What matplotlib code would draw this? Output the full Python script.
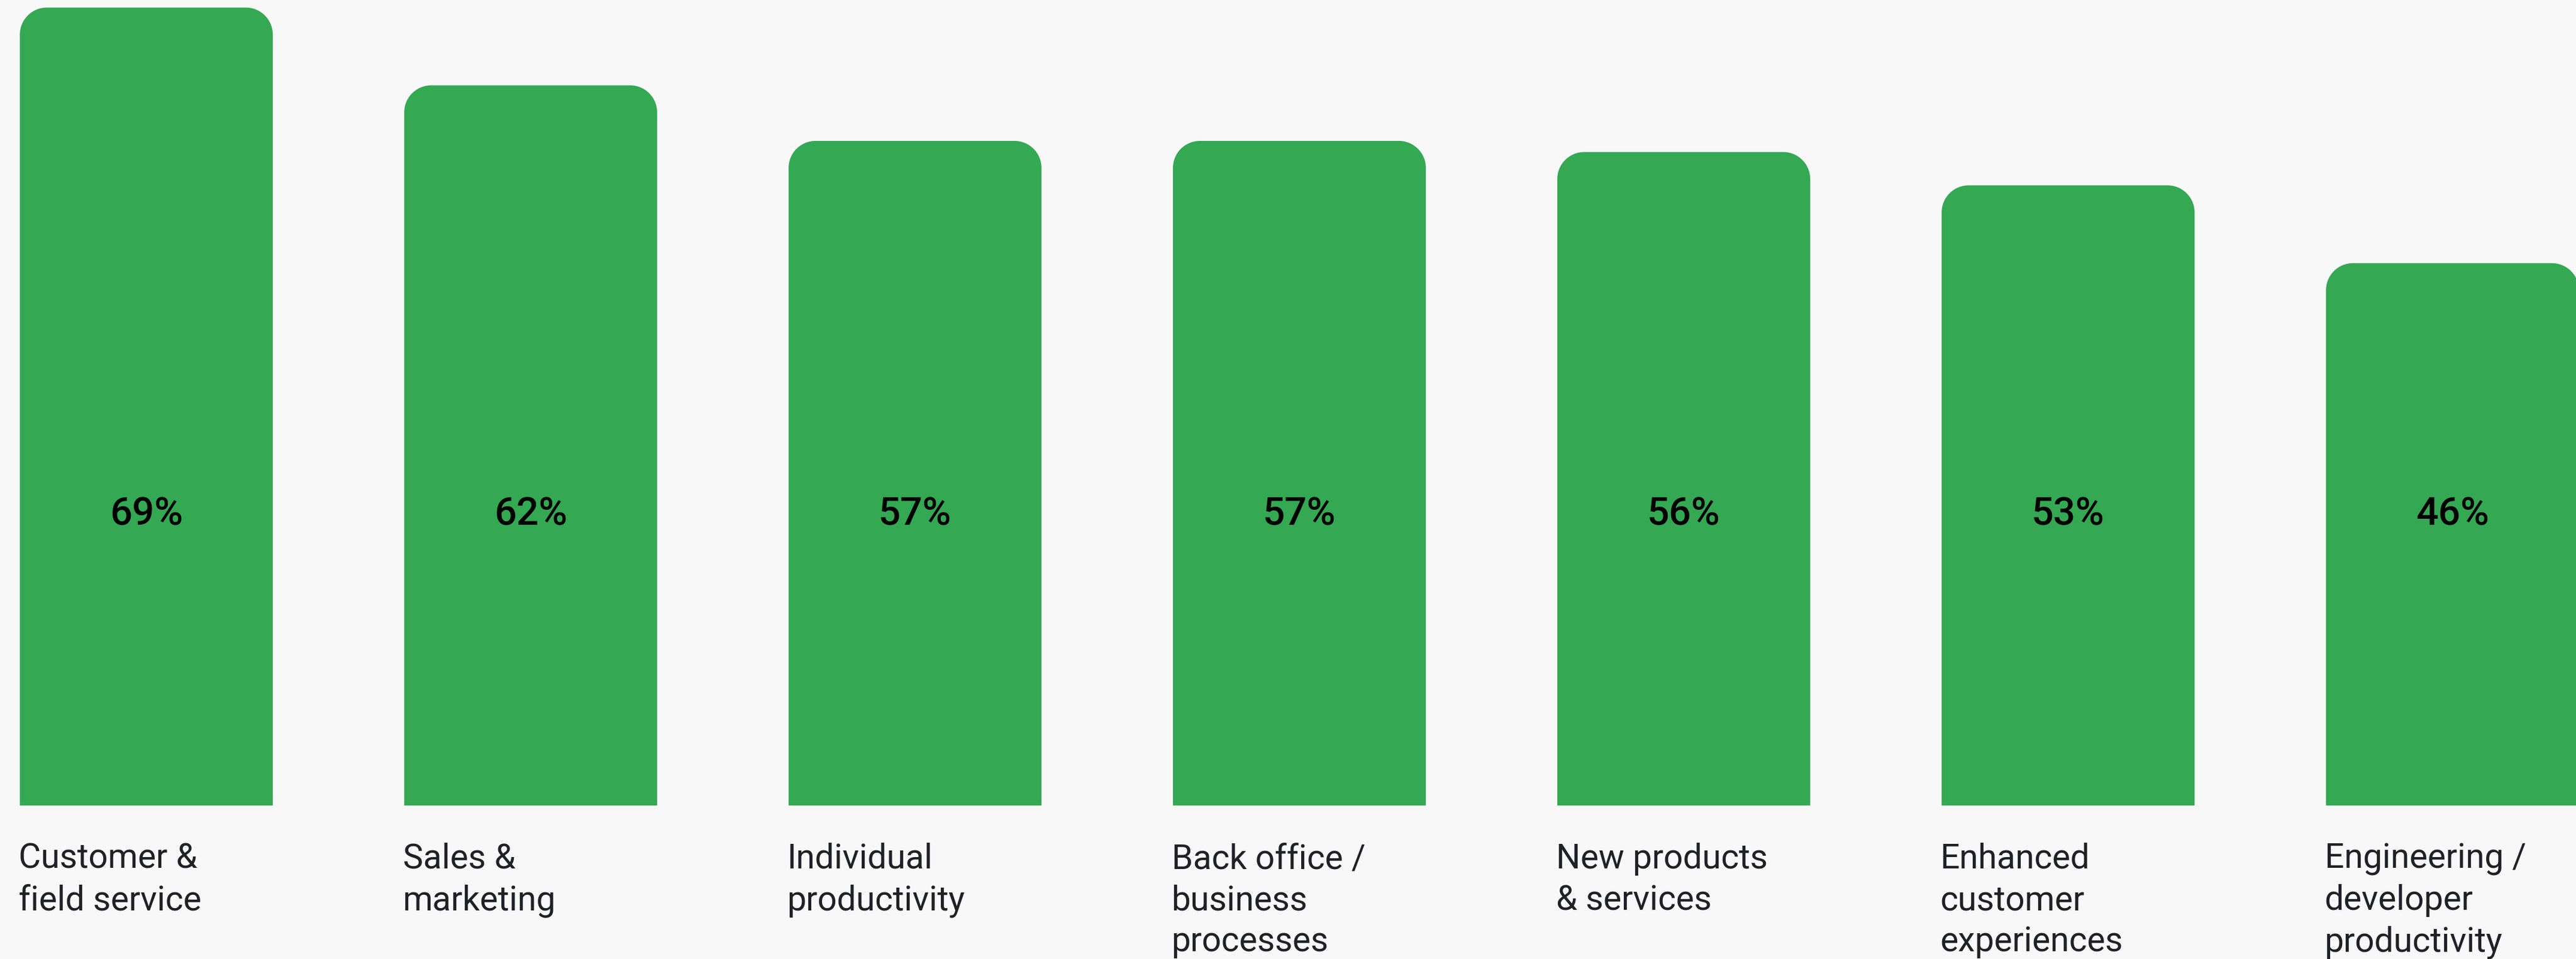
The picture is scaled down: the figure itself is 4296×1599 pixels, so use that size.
import numpy as np
import matplotlib
matplotlib.use("Agg")
import matplotlib.pyplot as plt
from matplotlib.path import Path
from matplotlib.patches import PathPatch
from matplotlib.transforms import blended_transform_factory

# survey data: share of respondents per use case
categories = [
    "Customer &\nfield service",
    "Sales &\nmarketing",
    "Individual\nproductivity",
    "Back office /\nbusiness\nprocesses",
    "New products\n& services",
    "Enhanced\ncustomer\nexperiences",
    "Engineering /\ndeveloper\nproductivity",
]
values = [69, 62, 57, 57, 56, 53, 46]
value_labels = [f"{v}%" for v in values]

GREEN = "#34A853"
BG = "#F8F8F8"
TEXT = "#202124"

plt.rcParams["font.family"] = ["Roboto", "DejaVu Sans"]

W, H, DPI = 4296, 1599, 100
fig = plt.figure(figsize=(W / DPI, H / DPI), dpi=DPI, facecolor=BG)

# axes runs from the top of the figure down to the bar baseline
base_px = 1343
ax = fig.add_axes([0, 1 - base_px / H, 1, base_px / H])
ax.set_facecolor(BG)
ax.set_axis_off()

x = np.arange(len(values))
bar_w = 0.658
ax.set_xlim(-0.3807, 6.3214)
ymin, ymax = -2.8, 69.68
ax.set_ylim(ymin, ymax)

# convert corner radius from pixels to data units
px_x = ax.bbox.width / (ax.get_xlim()[1] - ax.get_xlim()[0])
px_y = ax.bbox.height / (ymax - ymin)
radius = 45
rx, ry = radius / px_x, radius / px_y
k = 0.5523


def top_rounded_bar(xc, top, bottom):
    x0, x1 = xc - bar_w / 2, xc + bar_w / 2
    verts = [
        (x0, bottom),
        (x0, top - ry),
        (x0, top - ry + k * ry), (x0 + rx - k * rx, top), (x0 + rx, top),
        (x1 - rx, top),
        (x1 - rx + k * rx, top), (x1, top - ry + k * ry), (x1, top - ry),
        (x1, bottom),
        (x0, bottom),
    ]
    codes = [Path.MOVETO, Path.LINETO,
             Path.CURVE4, Path.CURVE4, Path.CURVE4,
             Path.LINETO,
             Path.CURVE4, Path.CURVE4, Path.CURVE4,
             Path.LINETO, Path.CLOSEPOLY]
    return PathPatch(Path(verts, codes), facecolor=GREEN, edgecolor="none")


for xi, v in zip(x, values):
    ax.add_patch(top_rounded_bar(xi, v, ymin))

# value labels sit at a fixed height inside every bar
fig_tr = blended_transform_factory(ax.transData, fig.transFigure)
for xi, lab in zip(x, value_labels):
    ax.text(xi, 1 - 858 / H, lab, transform=fig_tr, ha="center", va="center",
            fontsize=47, fontweight="medium", color="black")

# category names under the bars, left aligned with each bar
for xi, cat in zip(x, categories):
    ax.text(xi - bar_w / 2 - 0.004, 1 - 1405 / H, cat, transform=fig_tr,
            ha="left", va="top", fontsize=41, color=TEXT,
            linespacing=1.33, clip_on=False)

fig.savefig("out.png", dpi=DPI, facecolor=BG)
